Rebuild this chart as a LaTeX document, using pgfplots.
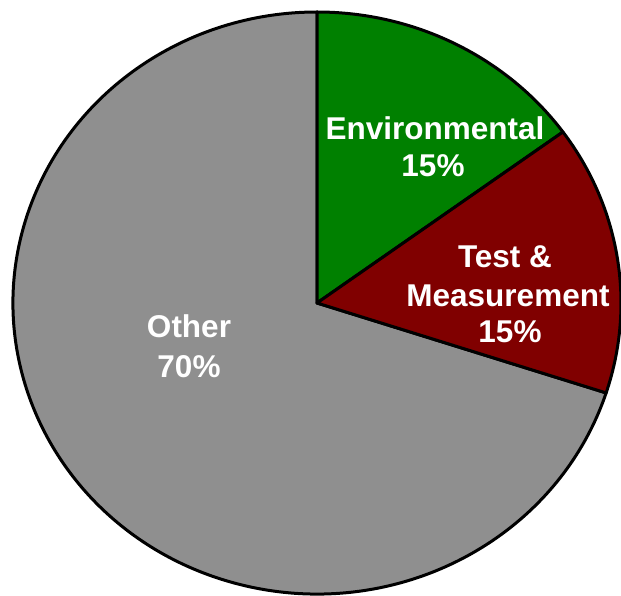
\documentclass[border=0pt]{standalone}
\usepackage{pgfplots}
\pgfplotsset{compat=1.18}
\usepackage{fontspec}
\setmainfont{Liberation Sans}
\definecolor{envgreen}{RGB}{0,128,0}
\definecolor{tmred}{RGB}{128,0,0}
\definecolor{othergray}{RGB}{143,143,143}
% shares in percent
\def\pEnv{15}
\def\pTM{15}
\def\pOther{70}
\pgfmathsetmacro\aA{90}
\pgfmathsetmacro\aB{\aA-3.6*\pEnv}
\pgfmathsetmacro\aC{\aB-3.6*\pTM}
\pgfmathsetmacro\aD{\aC-3.6*\pOther}
\newcommand\lbl{\fontsize{31.5}{37}\selectfont\bfseries\color{white}}
\begin{document}
\begin{tikzpicture}
\begin{axis}[
  scale only axis, width=621pt, height=595pt,
  xmin=0, xmax=621, ymin=0, ymax=595,
  hide axis, clip=false]
\coordinate (SW) at (axis cs:0,0);
\coordinate (NE) at (axis cs:621,595);
\filldraw[fill=othergray, draw=black, line width=3pt, line join=round]
  (axis cs:317,292) -- ++(\aC:304pt and 291pt)
  arc[start angle=\aC, end angle=\aD, x radius=304pt, y radius=291pt] -- cycle;
\filldraw[fill=envgreen, draw=black, line width=3pt, line join=round]
  (axis cs:317,292) -- ++(\aA:304pt and 291pt)
  arc[start angle=\aA, end angle=\aB, x radius=304pt, y radius=291pt] -- cycle;
\filldraw[fill=tmred, draw=black, line width=3pt, line join=round]
  (axis cs:317,292) -- ++(\aB:304pt and 291pt)
  arc[start angle=\aB, end angle=\aC, x radius=304pt, y radius=291pt] -- cycle;
\node[anchor=base, inner sep=0pt] at (axis cs:435,455) {\lbl Environmental};
\node[anchor=base, inner sep=0pt] at (axis cs:433,418) {\lbl \pEnv\%};
\node[anchor=base, inner sep=0pt] at (axis cs:505,327) {\lbl Test \&};
\node[anchor=base, inner sep=0pt] at (axis cs:508,288) {\lbl Measurement};
\node[anchor=base, inner sep=0pt] at (axis cs:510,252) {\lbl \pTM\%};
\node[anchor=base, inner sep=0pt] at (axis cs:189,257) {\lbl Other};
\node[anchor=base, inner sep=0pt] at (axis cs:189,218) {\lbl \pOther\%};
\end{axis}
\pgfresetboundingbox
\useasboundingbox (SW) rectangle (NE);
\end{tikzpicture}
\end{document}
